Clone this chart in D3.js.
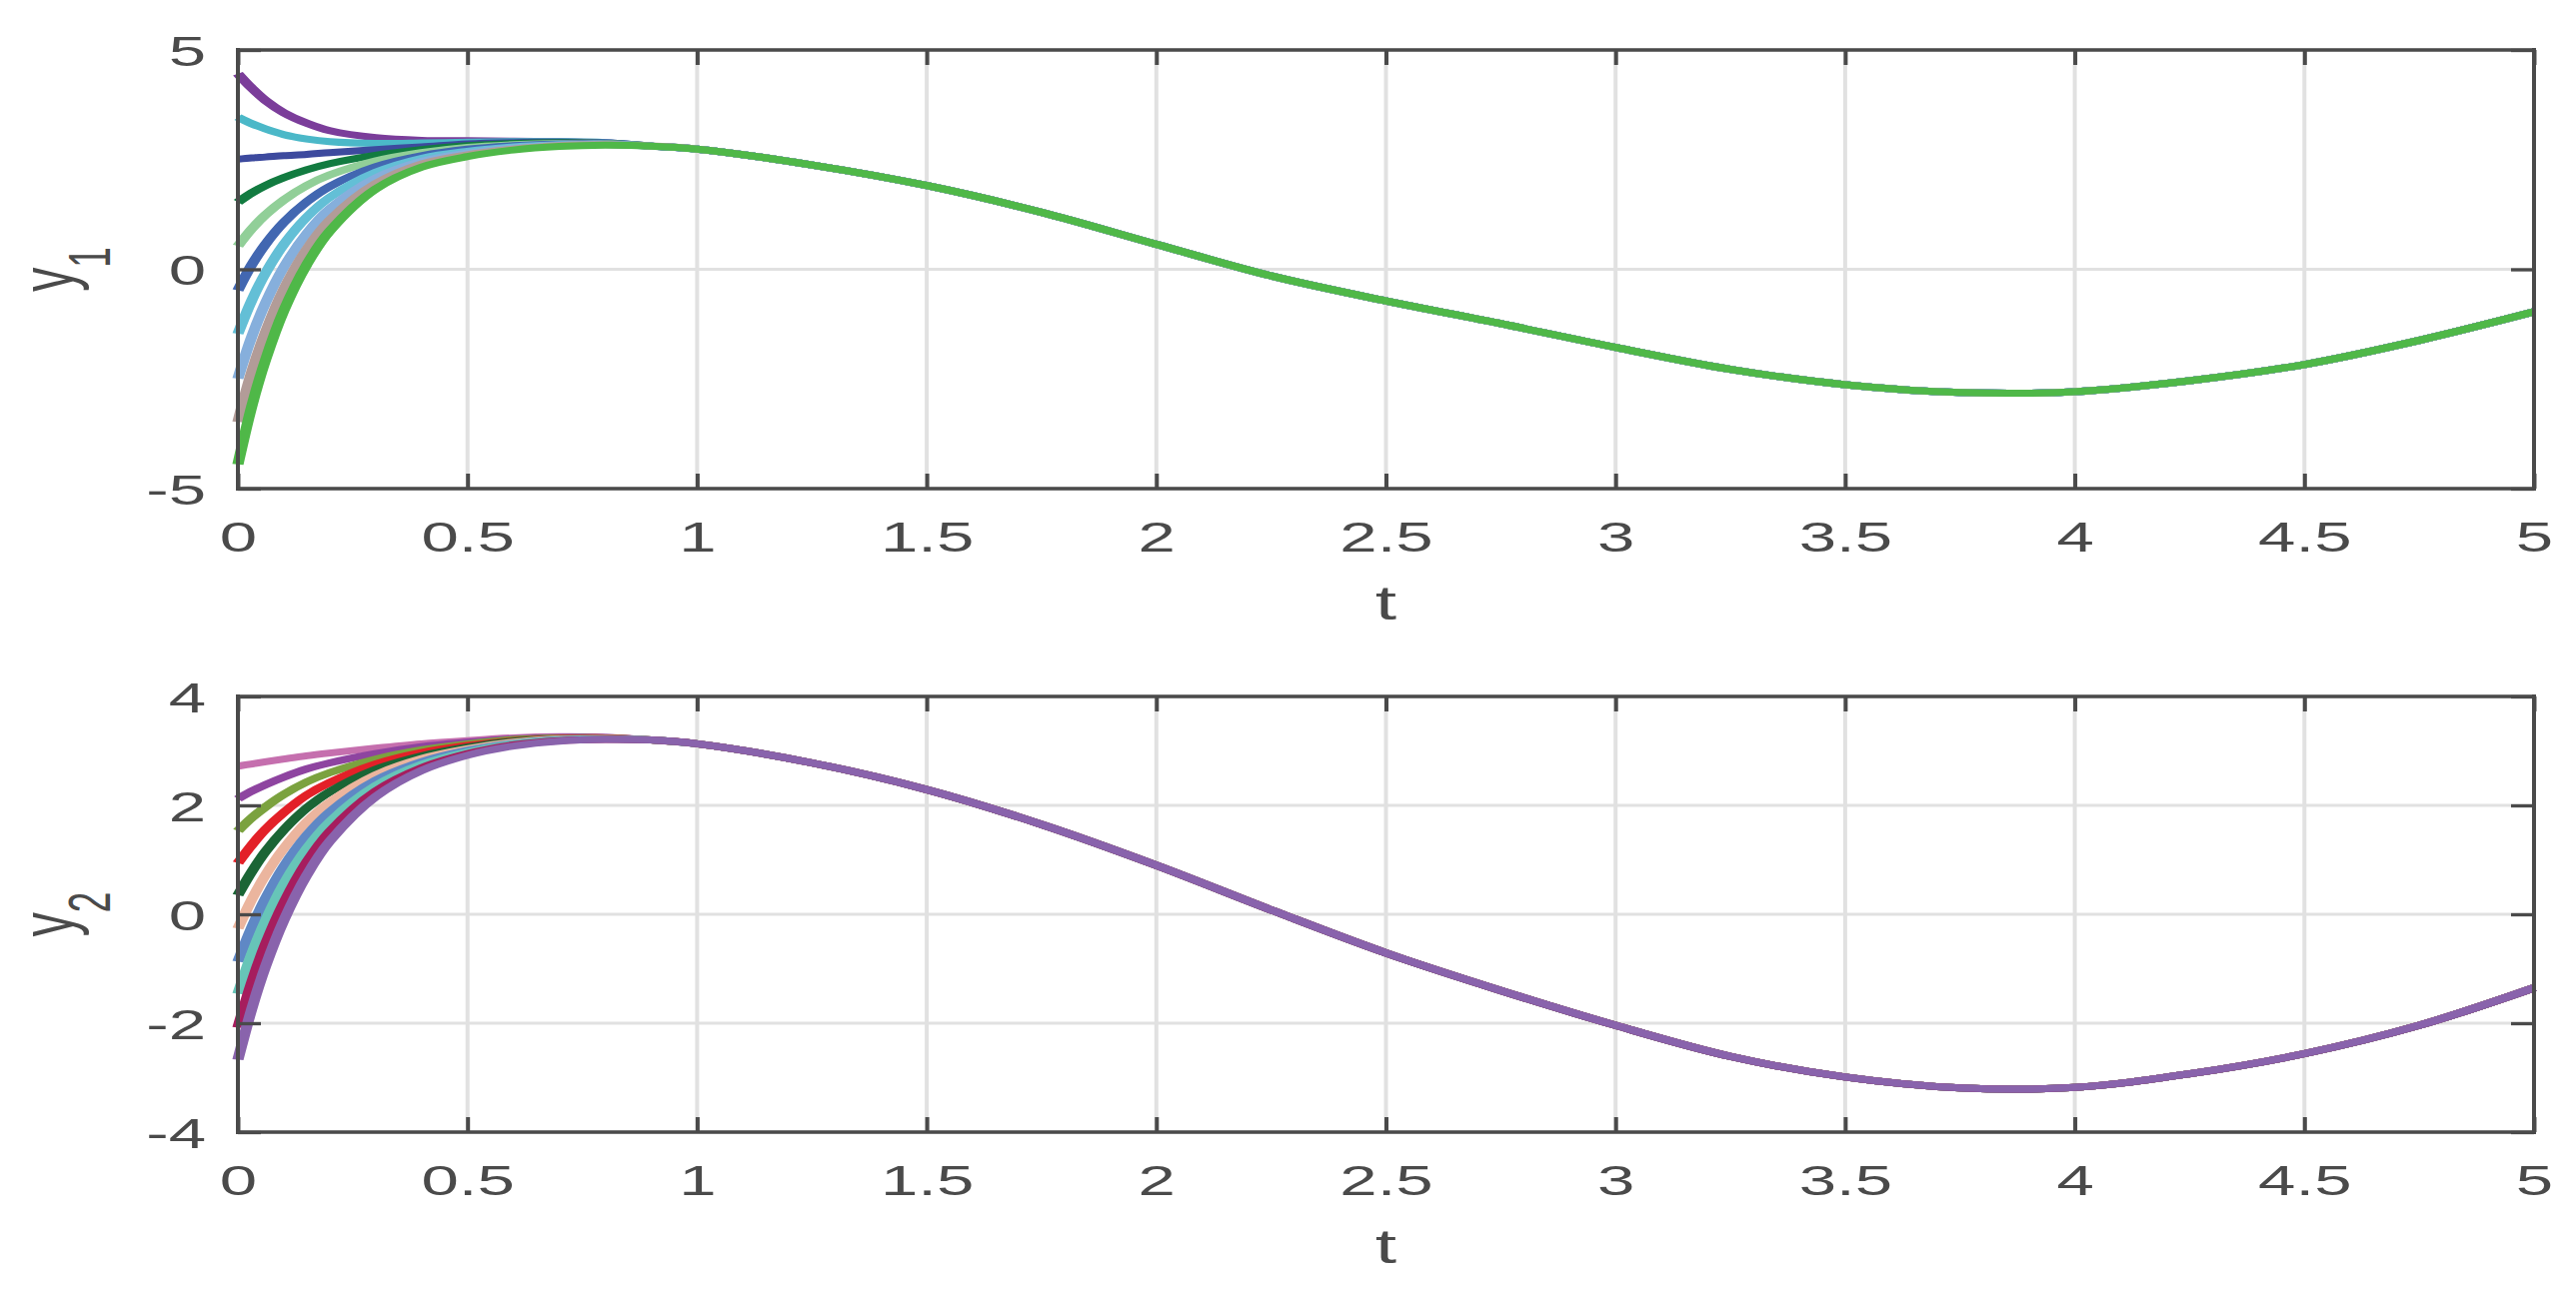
<!DOCTYPE html>
<html>
<head>
<meta charset="utf-8">
<script src="https://cdn.jsdelivr.net/npm/d3@7"></script>
<style>
  body { margin: 0; background: #fff; }
  svg { display: block; }
</style>
</head>
<body>
<svg id="chart"></svg>
<script>
const WIDTH = 2577;
const HEIGHT = 1293;
const STRETCH = 1.6;          // the figure is stretched sideways
const LEFT = 238;
const RIGHT = 2535;
const AXIS_COLOR = "#4a4a4a";
const GRID_COLOR = "#e1e1e1";
const FONT = "'Liberation Sans', Arial, Helvetica, sans-serif";

// time samples for the transient part and for the shared tail
const tTransient = [0, 0.03, 0.06, 0.1, 0.15, 0.2, 0.3, 0.4, 0.5, 0.6, 0.7, 0.8];
const tTail = [0.9, 1.0, 1.25, 1.5, 1.75, 2.0, 2.25, 2.5, 2.75, 3.0, 3.25, 3.5, 3.75, 4.0, 4.25, 4.5, 4.75, 5.0];
const xTicks = [0, 0.5, 1, 1.5, 2, 2.5, 3, 3.5, 4, 4.5, 5];

// y1
const y1Ticks = [-5, 0, 5];
const y1Colors = ["#7b3d9a", "#4bb8c8", "#3d4a9e", "#127b40", "#91cf98",
                  "#4267b1", "#63bfd6", "#86afdc", "#b29c98", "#4fb848"];
const y1Curves = [
  [4.46, 4.13, 3.85, 3.57, 3.33, 3.16, 3.00, 2.94, 2.93, 2.92, 2.91, 2.89],
  [3.47, 3.32, 3.20, 3.07, 2.97, 2.91, 2.87, 2.88, 2.90, 2.91, 2.91, 2.89],
  [2.51, 2.54, 2.56, 2.59, 2.62, 2.66, 2.73, 2.79, 2.86, 2.89, 2.90, 2.88],
  [1.53, 1.74, 1.91, 2.09, 2.27, 2.41, 2.60, 2.73, 2.82, 2.87, 2.89, 2.87],
  [0.53, 0.92, 1.24, 1.58, 1.91, 2.15, 2.47, 2.66, 2.78, 2.84, 2.87, 2.87],
  [-0.48, 0.10, 0.57, 1.07, 1.54, 1.89, 2.34, 2.59, 2.74, 2.82, 2.86, 2.86],
  [-1.47, -0.71, -0.09, 0.57, 1.19, 1.64, 2.21, 2.53, 2.69, 2.79, 2.84, 2.85],
  [-2.49, -1.54, -0.77, 0.05, 0.82, 1.38, 2.08, 2.46, 2.65, 2.77, 2.83, 2.85],
  [-3.48, -2.34, -1.43, -0.45, 0.46, 1.12, 1.95, 2.40, 2.61, 2.74, 2.82, 2.84],
  [-4.45, -3.13, -2.07, -0.94, 0.11, 0.87, 1.83, 2.33, 2.57, 2.72, 2.80, 2.83]
];
const y1Tail = [2.81, 2.74, 2.38, 1.91, 1.30, 0.57, -0.15, -0.72, -1.24, -1.78,
                -2.28, -2.63, -2.81, -2.79, -2.54, -2.17, -1.62, -0.97];

// y2
const y2Ticks = [-4, -2, 0, 2, 4];
const y2Colors = ["#c56fae", "#8e44a0", "#7ba23f", "#e32028", "#1b6535",
                  "#ebb59e", "#5f88c5", "#67c5b8", "#a61d5e", "#8963ac"];
const y2Curves = [
  [2.72, 2.76, 2.80, 2.85, 2.91, 2.96, 3.05, 3.13, 3.19, 3.24, 3.26, 3.25],
  [2.12, 2.26, 2.38, 2.52, 2.67, 2.78, 2.95, 3.08, 3.16, 3.22, 3.25, 3.25],
  [1.53, 1.77, 1.97, 2.20, 2.43, 2.60, 2.85, 3.02, 3.13, 3.21, 3.24, 3.24],
  [0.94, 1.27, 1.56, 1.87, 2.19, 2.42, 2.76, 2.97, 3.10, 3.19, 3.23, 3.24],
  [0.35, 0.78, 1.15, 1.55, 1.95, 2.25, 2.66, 2.91, 3.07, 3.18, 3.22, 3.23],
  [-0.26, 0.27, 0.72, 1.21, 1.70, 2.06, 2.56, 2.86, 3.04, 3.16, 3.22, 3.23],
  [-0.87, -0.24, 0.29, 0.88, 1.45, 1.88, 2.46, 2.80, 3.01, 3.14, 3.21, 3.22],
  [-1.46, -0.73, -0.12, 0.56, 1.21, 1.70, 2.36, 2.75, 2.98, 3.13, 3.20, 3.22],
  [-2.08, -1.25, -0.55, 0.21, 0.96, 1.52, 2.26, 2.69, 2.95, 3.11, 3.19, 3.21],
  [-2.67, -1.74, -0.96, -0.11, 0.72, 1.34, 2.16, 2.64, 2.92, 3.09, 3.18, 3.21]
];
const y2Tail = [3.20, 3.13, 2.78, 2.29, 1.65, 0.90, 0.08, -0.71, -1.40, -2.04,
                -2.61, -2.99, -3.19, -3.18, -2.93, -2.56, -2.04, -1.35];

const panels = [
  { sub: "1", curves: y1Curves, tail: y1Tail, colors: y1Colors, ticks: y1Ticks, domain: [-5, 5], top: 50, bottom: 489 },
  { sub: "2", curves: y2Curves, tail: y2Tail, colors: y2Colors, ticks: y2Ticks, domain: [-4, 4], top: 697, bottom: 1133 }
];

const svg = d3.select("#chart").attr("width", WIDTH).attr("height", HEIGHT);
svg.append("rect").attr("width", WIDTH).attr("height", HEIGHT).attr("fill", "#fff");

const tAll = tTransient.concat(tTail);

panels.forEach(p => {
  const x = d3.scaleLinear().domain([0, 5]).range([LEFT, RIGHT]);
  // same scale, in the squeezed frame used for the stretched lines
  const xs = d3.scaleLinear().domain([0, 5]).range([LEFT / STRETCH, RIGHT / STRETCH]);
  const y = d3.scaleLinear().domain(p.domain).range([p.bottom, p.top]);
  const g = svg.append("g");

  // grid
  g.append("g").selectAll("line").data(xTicks).enter().append("line")
    .attr("x1", d => x(d)).attr("x2", d => x(d))
    .attr("y1", p.top).attr("y2", p.bottom)
    .attr("stroke", GRID_COLOR).attr("stroke-width", 4);
  g.append("g").selectAll("line").data(p.ticks).enter().append("line")
    .attr("x1", LEFT).attr("x2", RIGHT)
    .attr("y1", d => y(d)).attr("y2", d => y(d))
    .attr("stroke", GRID_COLOR).attr("stroke-width", 3);

  // curves
  const line = d3.line()
    .x(d => xs(d[0]))
    .y(d => y(d[1]))
    .curve(d3.curveCatmullRom.alpha(0.5));
  const lines = g.append("g").attr("transform", `scale(${STRETCH},1)`);
  p.curves.forEach((vals, i) => {
    const pts = tAll.map((t, j) => [t, j < vals.length ? vals[j] : p.tail[j - vals.length]]);
    lines.append("path")
      .attr("d", line(pts))
      .attr("fill", "none")
      .attr("stroke", p.colors[i])
      .attr("stroke-width", 7)
      .attr("stroke-linejoin", "round")
      .attr("stroke-linecap", "butt");
  });

  // axes
  const styleAxis = (sel, w) => {
    sel.attr("font-size", null).attr("font-family", null);
    sel.select(".domain").remove();
    sel.selectAll(".tick line").attr("stroke", AXIS_COLOR).attr("stroke-width", w);
  };

  const axB = g.append("g").attr("transform", `translate(0,${p.bottom})`)
    .call(d3.axisBottom(x).tickValues(xTicks).tickFormat(d => String(d))
      .tickSizeInner(-15).tickSizeOuter(0).tickPadding(0));
  styleAxis(axB, 4);
  axB.selectAll(".tick text")
    .attr("y", 63).attr("dy", null)
    .attr("transform", `scale(${STRETCH},1)`)
    .attr("fill", AXIS_COLOR).style("font-size", "42px").style("font-family", FONT);

  const axT = g.append("g").attr("transform", `translate(0,${p.top})`)
    .call(d3.axisTop(x).tickValues(xTicks).tickFormat(() => "")
      .tickSizeInner(-15).tickSizeOuter(0));
  styleAxis(axT, 4);

  const axL = g.append("g").attr("transform", `translate(${LEFT},0)`)
    .call(d3.axisLeft(y).tickValues(p.ticks).tickFormat(d => String(d))
      .tickSizeInner(-23).tickSizeOuter(0).tickPadding(0));
  styleAxis(axL, 3.3);
  axL.selectAll(".tick text")
    .attr("x", -32 / STRETCH).attr("y", 15).attr("dy", null)
    .attr("text-anchor", "end")
    .attr("transform", `scale(${STRETCH},1)`)
    .attr("fill", AXIS_COLOR).style("font-size", "42px").style("font-family", FONT);

  const axR = g.append("g").attr("transform", `translate(${RIGHT},0)`)
    .call(d3.axisRight(y).tickValues(p.ticks).tickFormat(() => "")
      .tickSizeInner(-23).tickSizeOuter(0));
  styleAxis(axR, 3.3);

  // box
  const box = g.append("g").attr("stroke", AXIS_COLOR).attr("stroke-linecap", "square");
  box.append("line").attr("x1", LEFT).attr("x2", LEFT).attr("y1", p.top).attr("y2", p.bottom).attr("stroke-width", 4);
  box.append("line").attr("x1", RIGHT).attr("x2", RIGHT).attr("y1", p.top).attr("y2", p.bottom).attr("stroke-width", 4);
  box.append("line").attr("x1", LEFT).attr("x2", RIGHT).attr("y1", p.top).attr("y2", p.top).attr("stroke-width", 3.3);
  box.append("line").attr("x1", LEFT).attr("x2", RIGHT).attr("y1", p.bottom).attr("y2", p.bottom).attr("stroke-width", 3.3);

  // labels
  g.append("text")
    .attr("transform", `translate(${(LEFT + RIGHT) / 2},${p.bottom + 131}) scale(${STRETCH},1)`)
    .attr("text-anchor", "middle")
    .attr("fill", AXIS_COLOR)
    .style("font-size", "48px").style("font-family", FONT)
    .text("t");

  const yl = g.append("text")
    .attr("transform", `translate(73,${(p.top + p.bottom) / 2}) scale(${STRETCH},1) rotate(-90)`)
    .attr("text-anchor", "middle")
    .attr("fill", AXIS_COLOR)
    .style("font-family", FONT);
  yl.append("tspan").style("font-size", "48px").text("y");
  yl.append("tspan").attr("dy", 23).style("font-size", "37px").text(p.sub);
});
</script>
</body>
</html>
